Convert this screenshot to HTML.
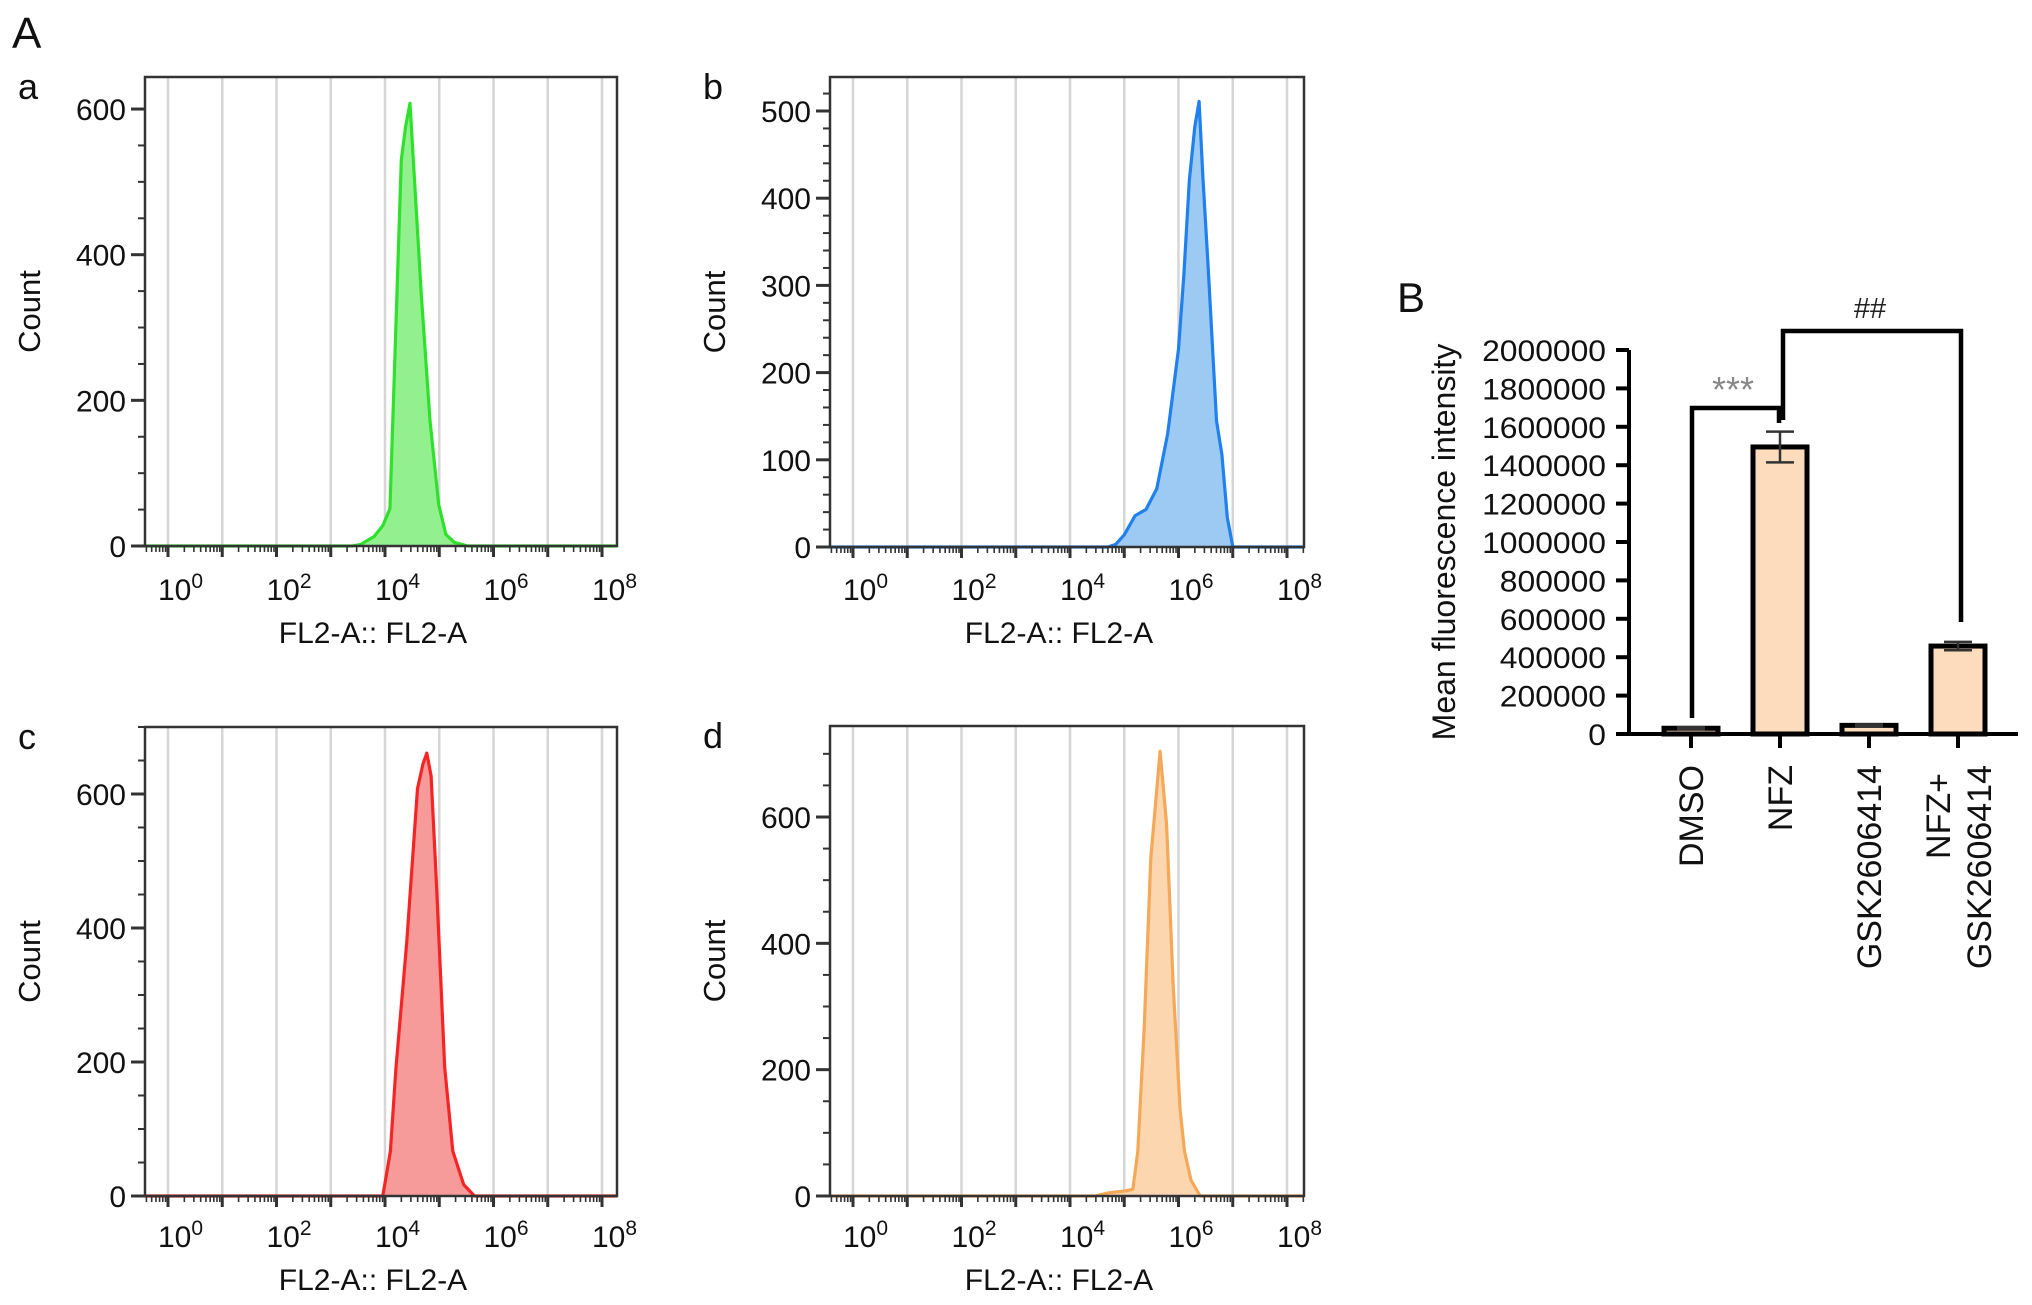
<!DOCTYPE html>
<html><head><meta charset="utf-8"><style>
html,body{margin:0;padding:0;background:#fff;}
svg{display:block;font-family:"Liberation Sans",Arial,sans-serif;}
</style></head><body>
<svg id="fig" width="2032" height="1305" viewBox="0 0 2032 1305" xmlns="http://www.w3.org/2000/svg">
<rect x="0" y="0" width="2032" height="1305" fill="#fff"/>
<text x="12" y="48" font-size="44" fill="#111">A</text>
<text x="1397" y="312" font-size="42" fill="#111">B</text>
</svg>
<script>
// ---------- Histogram data (x = log10 FL2-A, y = count) ----------
const histALog = [3.4,3.55,3.8,3.96,4.09,4.17,4.3,4.38,4.46,4.54,4.67,4.83,4.99,5.12,5.28,5.53];
const histACount = [0,2,13,28,51,230,530,576,608,507,345,172,57,16,5,0];
const histBLog = [4.7,4.84,5.0,5.2,5.4,5.6,5.8,6.0,6.1,6.2,6.3,6.38,6.45,6.55,6.7,6.8,6.9,7.0];
const histBCount = [0,3,14,36,43,67,130,227,313,420,482,511,424,318,145,106,34,0];
const histCLog = [3.96,4.1,4.2,4.4,4.6,4.7,4.77,4.85,4.95,5.1,5.25,5.45,5.65];
const histCCount = [0,67,190,378,608,645,661,627,465,192,67,17,0];
const histDLog = [4.46,4.71,5.03,5.16,5.25,5.37,5.49,5.66,5.78,5.9,6.03,6.11,6.23,6.4];
const histDCount = [0,5,8,11,71,270,535,704,588,336,137,71,25,0];
const decadeTicks = [0,2,4,6,8];
const yTicksA = [0,200,400,600];
const yTicksB = [0,100,200,300,400,500];
const yTicksC = [0,200,400,600];
const yTicksD = [0,200,400,600];

// ---------- Bar chart data ----------
const barCategories = ["DMSO","NFZ","GSK2606414","NFZ+|GSK2606414"];
const barValues = [30000,1495000,45000,458000];
const barErrors = [5000,80000,5000,22000];
const barYTicks = [0,200000,400000,600000,800000,1000000,1200000,1400000,1600000,1800000,2000000];

const NS = "http://www.w3.org/2000/svg";
const svg = document.getElementById('fig');
function el(tag, attrs, parent){
  const e = document.createElementNS(NS, tag);
  for (const k in attrs) e.setAttribute(k, attrs[k]);
  (parent||svg).appendChild(e);
  return e;
}

function histogram(cfg){
  const g = el('g', {});
  
  
  const x0 = cfg.left, x1 = cfg.right, y0 = cfg.zeroY;
  const X = v => cfg.gridX0 + v * 54.25;
  const Y = c => y0 - c * cfg.pxPerCount;
  for (let d = 0; d <= 8; d++) {
    const ln = el('line', {x1:X(d), x2:X(d), y1:cfg.top, y2:y0, stroke:'#d6d6d6', 'stroke-width':2.5}, g);
    
    
  }
  let d = '';
  cfg.logs.forEach((lv, i) => { d += (i ? 'L' : 'M') + X(lv).toFixed(1) + ',' + Y(cfg.counts[i]).toFixed(1); });
  const fill = el('path', {d: d + 'Z', fill: cfg.fill, stroke: 'none'}, g);
  
  
  const line = el('path', {d: 'M' + x0 + ',' + y0 + 'L' + d.slice(1) + 'L' + x1 + ',' + y0, fill:'none', stroke: cfg.stroke, 'stroke-width':3.2, 'stroke-linejoin':'round'}, g);
  
  
  const fr = el('rect', {x:x0, y:cfg.top, width:x1-x0, height:y0-cfg.top, fill:'none', stroke:'#333', 'stroke-width':2.5}, g);
  
  
  const maxC = (y0 - cfg.top) / cfg.pxPerCount;
  for (let c = 0; c <= maxC; c += cfg.minor) {
    const major = cfg.yTicks.indexOf(c) >= 0;
    el('line', {x1:x0 - (major ? 14 : 7), x2:x0, y1:Y(c), y2:Y(c), stroke:'#333', 'stroke-width': major ? 3 : 2}, g);
  }
  cfg.yTicks.forEach(c => {
    const t = el('text', {x:x0 - 19, y:Y(c) + 11, 'font-size':30, 'text-anchor':'end', fill:'#111'}, g);
    t.textContent = c;
    
    
  });
  for (let dd = -1; dd <= 8; dd++) {
    for (let m = 1; m <= 9; m++) {
      const xv = X(dd + Math.log10(m));
      if (xv < x0 || xv > x1) continue;
      const major = m === 1;
      el('line', {x1:xv, x2:xv, y1:y0, y2:y0 + (major ? 11 : 6), stroke:'#333', 'stroke-width': major ? 3 : 1.6}, g);
    }
  }
  decadeTicks.forEach(p => {
    const t = el('text', {x:X(p) - 10, y:cfg.tickBase, 'font-size':30, fill:'#111'}, g);
    
    
    const a = el('tspan', {}, t); a.textContent = '10';
    const b = el('tspan', {dy:-12, 'font-size':21}, t); b.textContent = p;
  });
  const xl = el('text', {x:(x0 + x1) / 2 - 8, y:cfg.tickBase + 43, 'font-size':30, 'text-anchor':'middle', fill:'#111'}, g);
  xl.textContent = 'FL2-A:: FL2-A';
  
  
  const yl = el('text', {transform:'translate(' + (cfg.left - 105) + ',' + ((cfg.top + y0) / 2) + ') rotate(-90)', 'font-size':31, 'text-anchor':'middle', fill:'#111'}, g);
  yl.textContent = 'Count';
  
  
  const pl = el('text', {x:cfg.left - 127, y:cfg.top + 22, 'font-size':36, fill:'#111'}, g);
  pl.textContent = cfg.id;
  
  
}

histogram({id:'a', left:145, right:617, top:77, zeroY:546, pxPerCount:469/644, gridX0:168, logs:histALog, counts:histACount, yTicks:yTicksA, minor:50, fill:'#93f08f', stroke:'#2fe02c', tickBase:600});
histogram({id:'b', left:830, right:1304, top:77, zeroY:547, pxPerCount:436/500, gridX0:853, logs:histBLog, counts:histBCount, yTicks:yTicksB, minor:20, fill:'#9ccaf3', stroke:'#1f80ee', tickBase:600});
histogram({id:'c', left:145, right:617, top:727, zeroY:1196, pxPerCount:402/600, gridX0:168, logs:histCLog, counts:histCCount, yTicks:yTicksC, minor:50, fill:'#f79a9a', stroke:'#f52525', tickBase:1247});
histogram({id:'d', left:830, right:1304, top:726, zeroY:1196, pxPerCount:379/600, gridX0:853, logs:histDLog, counts:histDCount, yTicks:yTicksD, minor:50, fill:'#fcd6ae', stroke:'#f4a858', tickBase:1247});

// ---------- Bar chart ----------
(function(){
  const g = el('g', {});
  
  
  const axX = 1629, zeroY = 734, topY = 350;
  const Y = v => zeroY - v / 2000000 * (zeroY - topY);
  const X = i => 1691 + i * 89;
  const bw = 54;
  barValues.forEach((v, i) => {
    const r = el('rect', {x:X(i) - bw/2, y:Y(v), width:bw, height:zeroY - Y(v), fill:'#fddcbd', stroke:'#000', 'stroke-width':5}, g);
    
    
    const e = barErrors[i];
    el('line', {x1:X(i), x2:X(i), y1:Y(v + e), y2:Y(v - e), stroke:'#333', 'stroke-width':2.5}, g);
    el('line', {x1:X(i) - 14, x2:X(i) + 14, y1:Y(v + e), y2:Y(v + e), stroke:'#333', 'stroke-width':2.5}, g);
    el('line', {x1:X(i) - 14, x2:X(i) + 14, y1:Y(v - e), y2:Y(v - e), stroke:'#333', 'stroke-width':2.5}, g);
  });
  const ax = el('path', {d:'M' + axX + ',' + topY + 'V' + zeroY + 'M1617,' + zeroY + 'H2018', stroke:'#000', 'stroke-width':4, fill:'none'}, g);
  
  
  barYTicks.forEach(v => {
    el('line', {x1:axX - 13, x2:axX, y1:Y(v), y2:Y(v), stroke:'#000', 'stroke-width':4}, g);
    const s = String(v);
    const t = el('text', {x:1606, y:Y(v) + 11, 'font-size':30, 'text-anchor':'end', fill:'#111', textLength: s.length * 17.7, lengthAdjust:'spacingAndGlyphs'}, g);
    t.textContent = s;
    
    
  });
  barCategories.forEach((c, i) => {
    el('line', {x1:X(i), x2:X(i), y1:zeroY, y2:zeroY + 14, stroke:'#000', 'stroke-width':4}, g);
    const lines = c.split('|');
    lines.forEach((ln, j) => {
      const cx = lines.length > 1 ? X(i) - 20 + j * 41 : X(i);
      const t = el('text', {transform:'translate(' + (cx + 12) + ',' + (lines.length > 1 && j === 0 ? 773 : 765) + ') rotate(-90)', 'font-size':34, 'text-anchor':'end', fill:'#111'}, g);
      t.textContent = ln;
      
      
    });
  });
  const yl = el('text', {transform:'translate(1455,542) rotate(-90)', 'font-size':32, 'text-anchor':'middle', fill:'#111'}, g);
  yl.textContent = 'Mean fluorescence intensity';
  
  
  const b1 = el('path', {d:'M1692,718V408H1779V423', stroke:'#000', 'stroke-width':4.5, fill:'none'}, g);
  
  
  const b2 = el('path', {d:'M1783,420V331H1961V622', stroke:'#000', 'stroke-width':4.5, fill:'none'}, g);
  
  
  const s1 = el('text', {x:1733, y:402, 'font-size':36, 'text-anchor':'middle', fill:'#888'}, g);
  s1.textContent = '***';
  
  
  const s2 = el('text', {x:1870, y:318, 'font-size':29, 'text-anchor':'middle', fill:'#222'}, g);
  s2.textContent = '##';
  
  
})();
</script>
</body></html>
